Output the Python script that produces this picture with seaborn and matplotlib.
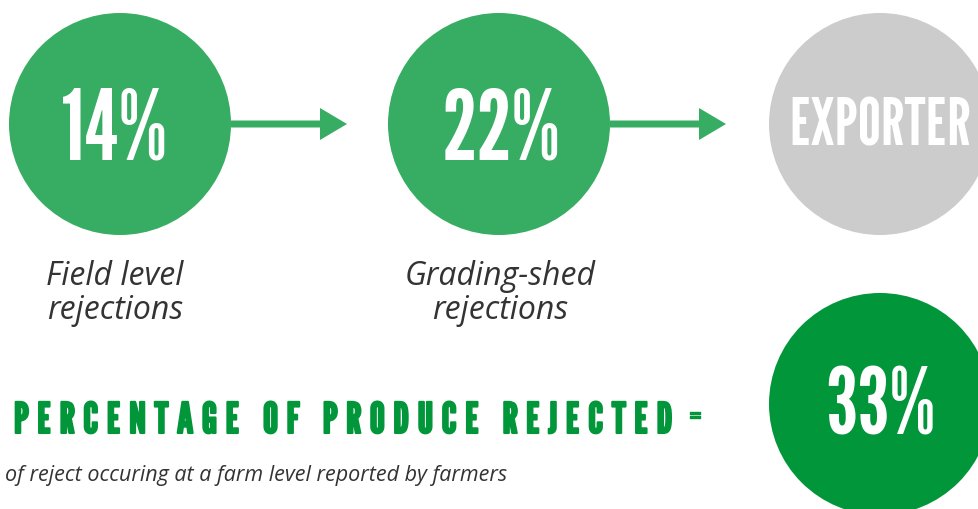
import numpy as np
import matplotlib.pyplot as plt
import matplotlib.patheffects as pe
import seaborn as sns
import pandas as pd

# values shown on the infographic
stage_values = ['14%', '22%', 'EXPORTER']
stage_labels = ['Field level\nrejections', 'Grading-shed\nrejections', '']
total_value = '33%'
heading = 'PERCENTAGE OF PRODUCE REJECTED'
subtitle = 'of reject occuring at a farm level reported by farmers'

# layout (pixels, figure is 979x509 at dpi 100)
centers_x = [120, 499, 880]
centers_y = [124, 124, 124]
total_xy = (880, 404)
radius = 111

light_green = '#36AD63'
dark_green = '#009639'
grey = '#CCCCCC'
text_grey = '#333333'

sns.set_theme(style='white')
gothic = ['League Gothic', 'Bebas Neue', 'DejaVu Sans']
italic_font = ['Open Sans', 'DejaVu Sans']
plt.rcParams['font.family'] = gothic

fig = plt.figure(figsize=(9.79, 5.09), dpi=100)
ax = fig.add_axes([0, 0, 1, 1])

# circles as big scatter markers (size in points^2)
diam_pt = 2 * radius * 72 / 100
circles = pd.DataFrame({
    'x': centers_x + [total_xy[0]],
    'y': centers_y + [total_xy[1]],
    'kind': ['stage', 'stage', 'exporter', 'total'],
})
sns.scatterplot(data=circles, x='x', y='y', hue='kind',
                palette={'stage': light_green, 'exporter': grey, 'total': dark_green},
                s=diam_pt ** 2, linewidth=0, legend=False, ax=ax)
ax.set_xlim(0, 979)
ax.set_ylim(509, 0)
ax.set_aspect('equal')
ax.axis('off')

# arrows between the circles
for i in range(2):
    x0 = centers_x[i] + radius
    ax.arrow(x0, centers_y[i], 116, 0, width=7, head_width=32, head_length=27,
             length_includes_head=True, color=light_green, linewidth=0)

# numbers inside the circles
num_dx = [-6, 2, 0]
num_dy = [8, 8, 3]
for i, val in enumerate(stage_values):
    size = 47 if val == 'EXPORTER' else 70
    ax.text(centers_x[i] + num_dx[i], centers_y[i] + num_dy[i], val, color='white',
            fontsize=size, ha='center', va='center')
ax.text(total_xy[0], total_xy[1] + 5, total_value, color='white',
        fontsize=66, ha='center', va='center')

# labels under the circles
label_x = [115, 500]
for i in range(2):
    ax.text(label_x[i], 319, stage_labels[i], family=italic_font,
            style='italic', fontsize=23, color=text_grey, ha='center', va='baseline',
            linespacing=1.05)

# heading and subtitle
ax.text(14, 433, '\u2009'.join(heading), color=dark_green, fontsize=30.5,
        ha='left', va='baseline',
        path_effects=[pe.withStroke(linewidth=1.5, foreground=dark_green)])
ax.text(695, 417, '=', color=dark_green, fontsize=16,
        ha='center', va='center',
        path_effects=[pe.withStroke(linewidth=1, foreground=dark_green)])
ax.text(5, 481, subtitle, family=italic_font, style='italic',
        fontsize=15.5, color=text_grey, ha='left', va='baseline')

fig.savefig('out.png', dpi=100)
